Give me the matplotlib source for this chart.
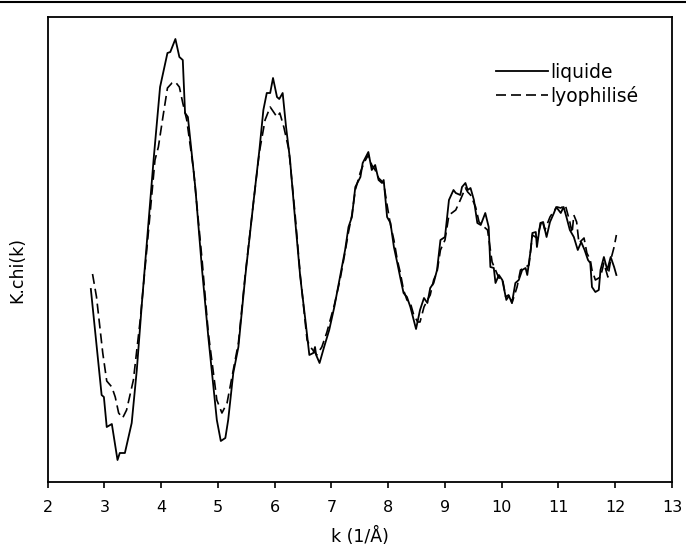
import matplotlib
matplotlib.use("Agg")
import matplotlib.pyplot as plt
from matplotlib.lines import Line2D

plt.rcParams['font.family'] = ['DejaVu Sans']

# liquide (solid)
k_liq = [2.76, 2.95, 2.99, 3.04, 3.13, 3.23, 3.27, 3.36, 3.48, 3.57, 3.66, 3.77, 3.87, 3.98,
         4.11, 4.16, 4.25, 4.32, 4.38, 4.42, 4.47, 4.60, 4.72, 4.83, 4.92, 4.98, 5.05, 5.13,
         5.18, 5.27, 5.36, 5.48, 5.63, 5.73, 5.80, 5.86, 5.92, 5.97, 6.04, 6.08, 6.14, 6.20,
         6.27, 6.36, 6.45, 6.54, 6.61, 6.68, 6.71, 6.73, 6.79, 6.87, 6.96, 7.05, 7.15, 7.24,
         7.30, 7.36, 7.42, 7.51, 7.55, 7.65, 7.71, 7.77, 7.83, 7.89, 7.92, 7.98, 8.04, 8.10,
         8.16, 8.21, 8.27, 8.33, 8.39, 8.45, 8.49, 8.56, 8.63, 8.69, 8.74, 8.80, 8.86, 8.92,
         9.00, 9.07, 9.15, 9.19, 9.27, 9.30, 9.36, 9.40, 9.45, 9.51, 9.57, 9.63, 9.71, 9.77,
         9.80, 9.86, 9.89, 9.95, 10.01, 10.07, 10.12, 10.18, 10.24, 10.30, 10.36, 10.42, 10.45,
         10.51, 10.54, 10.60, 10.62, 10.68, 10.73, 10.79, 10.85, 10.92, 10.96, 11.04, 11.09,
         11.14, 11.20, 11.27, 11.34, 11.40, 11.46, 11.52, 11.56, 11.59, 11.65, 11.71, 11.74,
         11.80, 11.86, 11.92, 11.98, 12.02]
chi_liq = [-0.08, -1.14, -1.16, -1.46, -1.43, -1.79, -1.72, -1.72, -1.42, -0.89, -0.22, 0.54,
           1.24, 1.94, 2.28, 2.29, 2.42, 2.24, 2.21, 1.68, 1.64, 0.94, 0.11, -0.56, -1.06,
           -1.39, -1.60, -1.57, -1.39, -0.92, -0.66, 0.04, 0.81, 1.31, 1.71, 1.88, 1.88, 2.03,
           1.84, 1.82, 1.88, 1.54, 1.21, 0.61, 0.04, -0.39, -0.74, -0.72, -0.66, -0.74, -0.82,
           -0.66, -0.49, -0.26, 0.04, 0.31, 0.54, 0.64, 0.94, 1.04, 1.18, 1.29, 1.11, 1.16,
           1.01, 0.98, 1.01, 0.64, 0.58, 0.34, 0.18, 0.04, -0.12, -0.16, -0.26, -0.39, -0.48,
           -0.29, -0.17, -0.22, -0.07, -0.02, 0.11, 0.41, 0.44, 0.81, 0.91, 0.88, 0.86, 0.94,
           0.98, 0.91, 0.93, 0.81, 0.58, 0.56, 0.68, 0.54, 0.14, 0.13, -0.02, 0.06, 0.01,
           -0.16, -0.14, -0.22, -0.02, 0.01, 0.11, 0.13, 0.06, 0.31, 0.48, 0.49, 0.34, 0.58,
           0.59, 0.44, 0.59, 0.68, 0.74, 0.68, 0.74, 0.64, 0.51, 0.44, 0.31, 0.39, 0.31, 0.21,
           0.18, -0.06, -0.11, -0.09, 0.11, 0.24, 0.11, 0.24, 0.14, 0.06]

# lyophilisé (dashed)
k_lyo = [2.79, 2.86, 2.97, 3.04, 3.13, 3.19, 3.25, 3.32, 3.39, 3.51, 3.63, 3.75, 3.89, 3.95,
         4.03, 4.11, 4.19, 4.25, 4.32, 4.38, 4.45, 4.57, 4.72, 4.83, 4.92, 4.98, 5.07, 5.16,
         5.27, 5.36, 5.48, 5.63, 5.73, 5.83, 5.92, 5.98, 6.04, 6.09, 6.16, 6.25, 6.36, 6.45,
         6.57, 6.63, 6.74, 6.83, 6.92, 7.05, 7.15, 7.24, 7.30, 7.36, 7.42, 7.51, 7.58, 7.65,
         7.71, 7.77, 7.83, 7.92, 7.98, 8.04, 8.10, 8.16, 8.21, 8.27, 8.33, 8.39, 8.45, 8.52,
         8.56, 8.63, 8.69, 8.74, 8.80, 8.86, 8.92, 9.00, 9.07, 9.12, 9.19, 9.27, 9.36, 9.40,
         9.45, 9.54, 9.60, 9.69, 9.75, 9.83, 9.89, 9.95, 10.01, 10.08, 10.14, 10.18, 10.27,
         10.33, 10.39, 10.48, 10.54, 10.62, 10.71, 10.76, 10.85, 10.93, 10.98, 11.04, 11.12,
         11.20, 11.24, 11.27, 11.32, 11.36, 11.45, 11.50, 11.56, 11.59, 11.65, 11.74, 11.80,
         11.87, 11.92, 11.98, 12.02]
chi_lyo = [0.07, -0.16, -0.72, -1.00, -1.06, -1.16, -1.32, -1.37, -1.29, -0.99, -0.39, 0.34,
           1.21, 1.34, 1.64, 1.93, 1.98, 1.99, 1.94, 1.78, 1.61, 1.11, 0.21, -0.52, -0.92,
           -1.19, -1.32, -1.22, -0.89, -0.62, 0.06, 0.81, 1.29, 1.61, 1.74, 1.69, 1.64, 1.68,
           1.54, 1.31, 0.66, 0.06, -0.59, -0.66, -0.74, -0.66, -0.51, -0.24, 0.01, 0.29,
           0.49, 0.66, 0.91, 1.09, 1.19, 1.26, 1.16, 1.11, 1.03, 0.98, 0.76, 0.56, 0.41, 0.21,
           0.09, -0.09, -0.19, -0.22, -0.34, -0.41, -0.41, -0.26, -0.19, -0.14, 0.01, 0.09,
           0.31, 0.41, 0.66, 0.68, 0.71, 0.81, 0.93, 0.89, 0.86, 0.74, 0.59, 0.54, 0.51, 0.19,
           0.11, 0.03, 0.03, -0.19, -0.14, -0.22, -0.06, 0.11, 0.13, 0.16, 0.46, 0.43, 0.61,
           0.51, 0.64, 0.71, 0.74, 0.73, 0.76, 0.59, 0.48, 0.66, 0.59, 0.38, 0.43, 0.28, 0.21,
           0.11, 0.01, 0.04, 0.18, 0.04, 0.21, 0.34, 0.46]

xticks = list(range(2, 14))

fig = plt.figure(figsize=(6.86, 5.47), dpi=100)
ax = fig.add_axes([47.7/686, 1-481.7/547, (672-47.7)/686, (481.7-16.5)/547])

ax.plot(k_liq, chi_liq, color='black', lw=1.3, label='liquide')
ax.plot(k_lyo, chi_lyo, color='black', lw=1.2, linestyle=(0, (6, 3)), label='lyophilisé')

ax.set_xlim(2, 13)
ax.set_ylim(-2.007, 2.645)
ax.set_xticks(xticks)
ax.set_yticks([])
ax.tick_params(axis='x', direction='out', length=4, width=1.2, labelsize=11.5, pad=9.5)
for s in ax.spines.values():
    s.set_linewidth(1.3)

ax.set_xlabel('k (1/Å)', fontsize=12.5, labelpad=8)
ax.set_ylabel('K.chi(k)', fontsize=12.5)
ax.yaxis.set_label_coords(-0.035, 0.455)

leg = ax.legend(loc='upper left', bbox_to_anchor=((496 - 47.7)/624.3, 1 - (63 - 16.5)/465.2),
                frameon=False, fontsize=13.5, handlelength=2.75, handletextpad=0.12,
                labelspacing=0.2, borderpad=0, borderaxespad=0)

fig.add_artist(Line2D([0, 1], [1 - 1.5/547, 1 - 1.5/547], color='black', lw=1.5,
                      transform=fig.transFigure))

fig.savefig('out.png', dpi=100)
